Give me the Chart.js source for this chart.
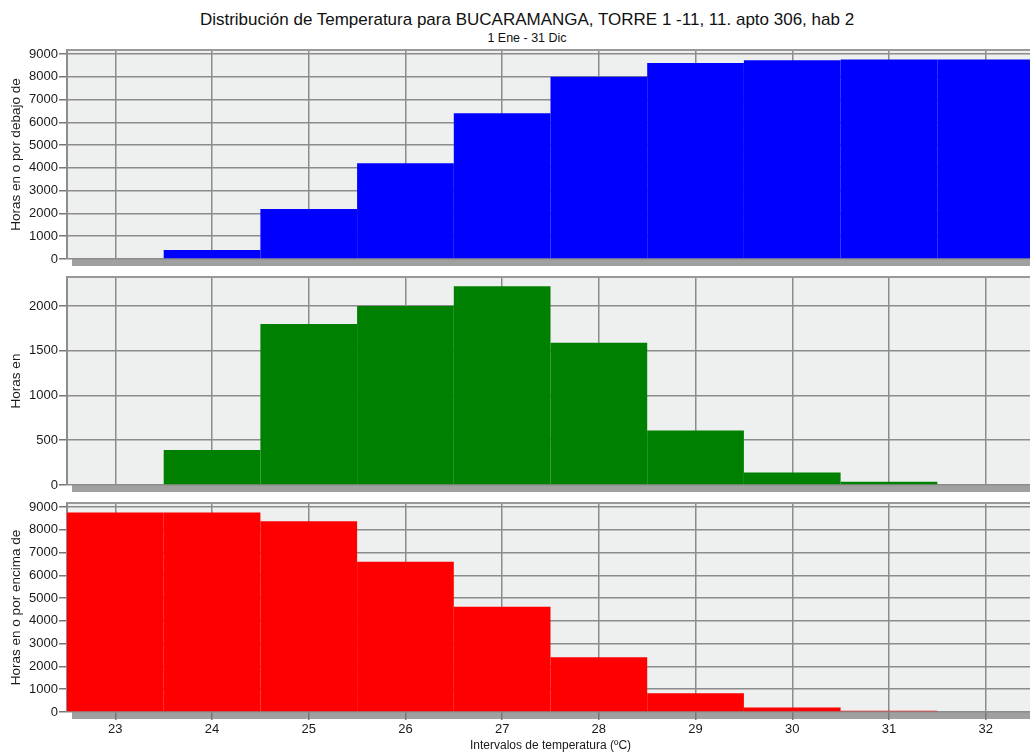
<!DOCTYPE html>
<html>
<head>
<meta charset="utf-8">
<script src="https://cdn.jsdelivr.net/npm/chart.js@4/dist/chart.umd.min.js"></script>
<style>
  html, body { margin: 0; padding: 0; background: #fff; width: 1030px; height: 755px; overflow: hidden; }
  .panel { position: absolute; left: 0; width: 1034px; }
  .title { position: absolute; left: 0; width: 1054px; text-align: center; font-family: 'Liberation Sans', Arial, sans-serif; color: #111; white-space: nowrap; }
</style>
</head>
<body>
<div class="title" style="top:10px;font-size:17px;">Distribución de Temperatura para BUCARAMANGA, TORRE 1 -11, 11. apto 306, hab 2</div>
<div class="title" style="top:31px;font-size:12.5px;">1 Ene - 31 Dic</div>
<div class="panel" style="top:40px;height:232px;"><canvas id="chartBelow"></canvas></div>
<div class="panel" style="top:268px;height:226px;"><canvas id="chartIn"></canvas></div>
<div class="panel" style="top:494px;height:261px;"><canvas id="chartAbove"></canvas></div>
<script>
// Temperature bins (ºC), bin centres
const binCentres = [23, 24, 25, 26, 27, 28, 29, 30, 31, 32];

// Hours at or below each bin
const hoursBelow = [0, 400, 2200, 4200, 6400, 8000, 8600, 8730, 8760, 8760];
// Hours inside each bin
const hoursIn = [0, 390, 1800, 2000, 2220, 1590, 610, 140, 35, 0];
// Hours at or above each bin
const hoursAbove = [8760, 8760, 8370, 6600, 4620, 2400, 820, 200, 60, 0];

const xTicks = [23, 24, 25, 26, 27, 28, 29, 30, 31, 32];
const yTicksHours = [0, 1000, 2000, 3000, 4000, 5000, 6000, 7000, 8000, 9000];
const yTicksIn = [0, 500, 1000, 1500, 2000];

const FONT = "'Liberation Sans', Arial, sans-serif";
const GRID = '#8c8c8c';

// panel decoration: light wall, top border and grey floor under the plot
const panelDeco = {
    id: 'panelDeco',
    beforeDraw(chart) {
        const { ctx, chartArea: a } = chart;
        ctx.save();
        ctx.fillStyle = '#eeefef';
        ctx.fillRect(a.left, a.top, a.right - a.left, a.bottom - a.top);
        ctx.fillStyle = '#a0a0a0';
        ctx.fillRect(a.left + 5, a.bottom, a.right - a.left - 5, 7);
        ctx.restore();
    },
    beforeDatasetsDraw(chart) {
        const { ctx, chartArea: a } = chart;
        ctx.save();
        ctx.strokeStyle = '#999';
        ctx.lineWidth = 2;
        ctx.beginPath();
        ctx.moveTo(a.left, a.top);
        ctx.lineTo(a.right, a.top);
        ctx.stroke();
        ctx.restore();
    }
};

function makePanel(id, values, color, yMax, yTicks, yTitle, pad, showX) {
    const canvas = document.getElementById(id);
    return new Chart(canvas, {
        type: 'bar',
        data: {
            datasets: [{
                data: binCentres.map((x, i) => ({ x: x, y: values[i] })),
                backgroundColor: color,
                borderWidth: 0,
                inflateAmount: 0,
                barPercentage: 1,
                categoryPercentage: 1
            }]
        },
        options: {
            responsive: true,
            maintainAspectRatio: false,
            animation: false,
            layout: { padding: pad },
            plugins: { legend: { display: false }, tooltip: { enabled: false } },
            scales: {
                x: {
                    type: 'linear',
                    min: 22.5,
                    max: 32.5,
                    offset: false,
                    afterBuildTicks: (s) => { s.ticks = xTicks.map(v => ({ value: v })); },
                    afterFit: (s) => { s.height = showX ? 43 : 0; },
                    grid: { offset: false, color: GRID, lineWidth: 1.5, drawTicks: showX, tickLength: 8, tickColor: '#777' },
                    border: { display: false },
                    ticks: {
                        display: showX,
                        padding: 2,
                        color: '#1a1a1a',
                        font: { family: FONT, size: 13 },
                        callback: (v) => String(v)
                    },
                    title: {
                        display: showX,
                        text: 'Intervalos de temperatura (ºC)',
                        color: '#1a1a1a',
                        font: { family: FONT, size: 12 },
                        padding: { top: 0, bottom: 2 }
                    }
                },
                y: {
                    min: 0,
                    max: yMax,
                    afterBuildTicks: (s) => { s.ticks = yTicks.map(v => ({ value: v })); },
                    afterFit: (s) => { s.width = 67; },
                    grid: { color: GRID, lineWidth: 1.5, tickLength: 8, tickColor: '#777' },
                    border: { display: true, color: '#8c8c8c', width: 2 },
                    ticks: {
                        padding: 1,
                        color: '#1a1a1a',
                        font: { family: FONT, size: 13 },
                        callback: (v) => String(v)
                    },
                    title: {
                        display: true,
                        text: yTitle,
                        color: '#1a1a1a',
                        font: { family: FONT, size: 13.5 },
                        padding: { top: 8, bottom: 0 }
                    }
                }
            }
        },
        plugins: [panelDeco]
    });
}

try {
    makePanel('chartBelow', hoursBelow, '#0000ff', 9175, yTicksHours,
        'Horas en o por debajo de', { top: 10, bottom: 13, left: 0, right: 0 }, false);
    makePanel('chartIn', hoursIn, '#008000', 2324, yTicksIn,
        'Horas en', { top: 9, bottom: 9, left: 0, right: 0 }, false);
    makePanel('chartAbove', hoursAbove, '#ff0000', 9175, yTicksHours,
        'Horas en o por encima de', { top: 9, bottom: 0, left: 0, right: 0 }, true);
} catch (error) {
    console.error('Error drawing temperature charts:', error);
}
</script>
</body>
</html>
